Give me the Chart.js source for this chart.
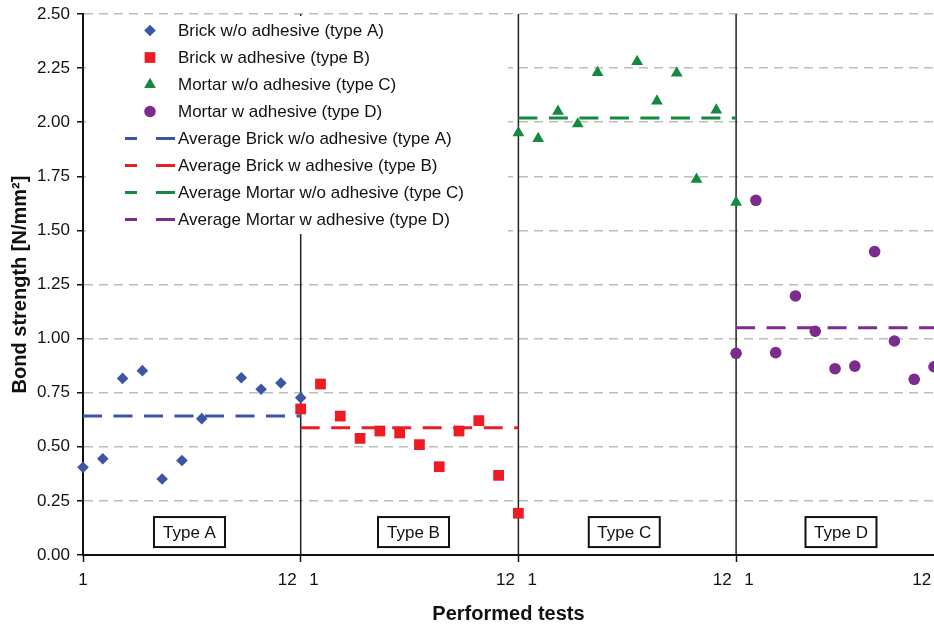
<!DOCTYPE html>
<html><head><meta charset="utf-8">
<script src="https://cdn.jsdelivr.net/npm/chart.js@4.4.1/dist/chart.umd.min.js"></script>
<style>html,body{margin:0;padding:0;background:#fff;}#wrap{width:934px;height:627px;}</style>
</head><body><div id="wrap"><canvas id="c" width="934" height="627"></canvas></div>
<script>
// ---------- data ----------
const typeNames = ["Type A", "Type B", "Type C", "Type D"];
const seriesLabels = ["Brick w/o adhesive (type A)", "Brick w adhesive (type B)", "Mortar w/o adhesive (type C)", "Mortar w adhesive (type D)"];
const averageLabels = ["Average Brick w/o adhesive (type A)", "Average Brick w adhesive (type B)", "Average Mortar w/o adhesive (type C)", "Average Mortar w adhesive (type D)"];
const brickNoAdhesive  = [0.405, 0.445, 0.816, 0.852, 0.351, 0.437, 0.630, null, 0.819, 0.766, 0.795, 0.727];
const brickAdhesive    = [0.675, 0.790, 0.642, 0.539, 0.573, 0.564, 0.510, 0.408, 0.573, 0.621, 0.368, 0.193];
const mortarNoAdhesive = [1.951, 1.924, 2.050, 1.992, 2.229, null, 2.280, 2.098, 2.227, 1.736, 2.056, 1.630];
const mortarAdhesive   = [0.932, 1.639, 0.935, 1.197, 1.034, 0.861, 0.873, 1.402, 0.989, 0.812, 0.870, null];
const averages = [0.642, 0.588, 2.019, 1.050];
const typeStarts = [0, 11, 22, 33];
const separators = [11, 22, 33];
const xMax = 43;
const xTickValues = [0, 10.32, 11, 11.67, 21.35, 22, 22.7, 32.3, 33, 33.65, 42.38];
const xTickLabels = ["1", "12", "", "1", "12", "", "1", "12", "", "1", "12"];
const typeLabelCenters = [5.38, 16.7, 27.35, 38.3];
const typeLabelY = 0.106;

// ---------- styles ----------
const colors = ["#3d55a5", "#ed1c24", "#148a3e", "#7b2c8c"];
const pointStyles = ["rectRot", "rect", "triangle", "circle"];
const pointRadii = [5.8, 7.6, 6.8, 5.8];
const FONT = "'Liberation Sans', Arial, sans-serif";

const seriesValues = [brickNoAdhesive, brickAdhesive, mortarNoAdhesive, mortarAdhesive];
const datasets = [];
seriesValues.forEach((vals, t) => {
  const pts = [];
  vals.forEach((v, i) => { if (v !== null) pts.push({x: typeStarts[t] + i, y: v}); });
  datasets.push({
    type: 'scatter', label: seriesLabels[t], data: pts, inLegend: true, clip: false,
    pointStyle: pointStyles[t], pointRadius: pointRadii[t], pointHoverRadius: pointRadii[t],
    backgroundColor: colors[t], borderColor: colors[t], pointBorderWidth: 0
  });
});
averages.forEach((a, t) => {
  datasets.push({
    type: 'line', label: averageLabels[t], inLegend: true, isAvg: true,
    data: [{x: typeStarts[t], y: a}, {x: Math.min(typeStarts[t] + 11, xMax), y: a}],
    borderColor: colors[t], backgroundColor: colors[t], borderWidth: 3,
    borderDash: [19, 11.5], pointRadius: 0, fill: false, showLine: true
  });
});
separators.forEach(s => {
  datasets.push({
    type: 'line', label: 'sep', data: [{x: s, y: 0}, {x: s, y: 2.5}],
    borderColor: '#222', borderWidth: 1.5, pointRadius: 0, fill: false, showLine: true
  });
});

const overlay = {
  id: 'overlay',
  afterDatasetsDraw(chart) {
    const ctx = chart.ctx;
    ctx.save();
    // legend box
    ctx.fillStyle = '#fff';
    ctx.fillRect(86, 16, 422, 218);
    ctx.font = "17px " + FONT;
    ctx.textBaseline = 'middle';
    ctx.textAlign = 'left';
    const rows = chart.data.datasets.filter(d => d.inLegend);
    rows.forEach((d, i) => {
      const y = 30.5 + i * 27;
      if (d.isAvg) {
        ctx.strokeStyle = d.borderColor;
        ctx.lineWidth = 3;
        ctx.setLineDash([12, 19, 19, 100]);
        ctx.beginPath(); ctx.moveTo(125, y); ctx.lineTo(176, y); ctx.stroke();
        ctx.setLineDash([]);
      } else {
        ctx.fillStyle = d.backgroundColor;
        ctx.strokeStyle = d.borderColor;
        try {
          Chart.helpers.drawPoint(ctx, {pointStyle: d.pointStyle, radius: d.pointRadius, rotation: 0, borderWidth: 0}, 150, y);
        } catch (e) {
          ctx.beginPath(); ctx.arc(150, y, d.pointRadius, 0, Math.PI * 2); ctx.fill();
        }
      }
      ctx.fillStyle = '#111';
      ctx.fillText(d.label, 178, y + 1);
    });
    // type boxes
    const xs = chart.scales.x, ys = chart.scales.y;
    ctx.font = "17px " + FONT;
    ctx.textAlign = 'center';
    typeNames.forEach((n, i) => {
      const cx = xs.getPixelForValue(typeLabelCenters[i]);
      const cy = ys.getPixelForValue(typeLabelY);
      const w = 71, h = 30;
      ctx.fillStyle = '#fff';
      ctx.fillRect(cx - w / 2, cy - h / 2, w, h);
      ctx.strokeStyle = '#111'; ctx.lineWidth = 2;
      ctx.strokeRect(cx - w / 2, cy - h / 2, w, h);
      ctx.fillStyle = '#111';
      ctx.fillText(n, cx, cy + 1);
    });
    ctx.restore();
  }
};

new Chart(document.getElementById('c'), {
  type: 'scatter',
  data: {datasets},
  plugins: [overlay],
  options: {
    responsive: false, animation: false, devicePixelRatio: 1,
    layout: {autoPadding: false, padding: {top: 14, right: 0, left: 0, bottom: 0}},
    plugins: {legend: {display: false}, tooltip: {enabled: false}},
    scales: {
      x: {
        type: 'linear', min: 0, max: xMax,
        afterBuildTicks: s => { s.ticks = xTickValues.map(v => ({value: v})); },
        afterFit: s => { s.height = 72; s.paddingRight = 0; s.paddingLeft = 0; },
        ticks: {
          autoSkip: false, maxRotation: 0, padding: 8, color: '#111',
          font: {family: FONT, size: 17},
          callback: (v, i) => xTickLabels[i]
        },
        grid: {
          drawOnChartArea: false, drawTicks: true, tickLength: 7, tickWidth: 1.5,
          tickColor: c => (c.tick && typeStarts.includes(c.tick.value)) ? '#111' : 'rgba(0,0,0,0)'
        },
        border: {display: true, color: '#111', width: 2},
        title: {display: true, text: 'Performed tests', color: '#111',
          font: {family: FONT, size: 20, weight: 'bold'}, padding: {top: 4, bottom: 1}}
      },
      y: {
        min: 0, max: 2.5,
        afterFit: s => { s.width = 83; s.paddingTop = 0; s.paddingBottom = 0; },
        ticks: {stepSize: 0.25, padding: 7, color: '#111',
          font: {family: FONT, size: 17},
          callback: v => Number(v).toFixed(2)},
        grid: {color: '#bdbdbd', lineWidth: 1.5, drawTicks: true,
          tickLength: 6, tickColor: '#111', tickWidth: 1.5, tickBorderDash: []},
        border: {display: true, color: '#111', width: 2, dash: [9, 6]},
        title: {display: true, text: 'Bond strength [N/mm²]', color: '#111',
          font: {family: FONT, size: 20, weight: 'bold'}, padding: {top: 8, bottom: 0}}
      }
    }
  }
});
</script></body></html>
